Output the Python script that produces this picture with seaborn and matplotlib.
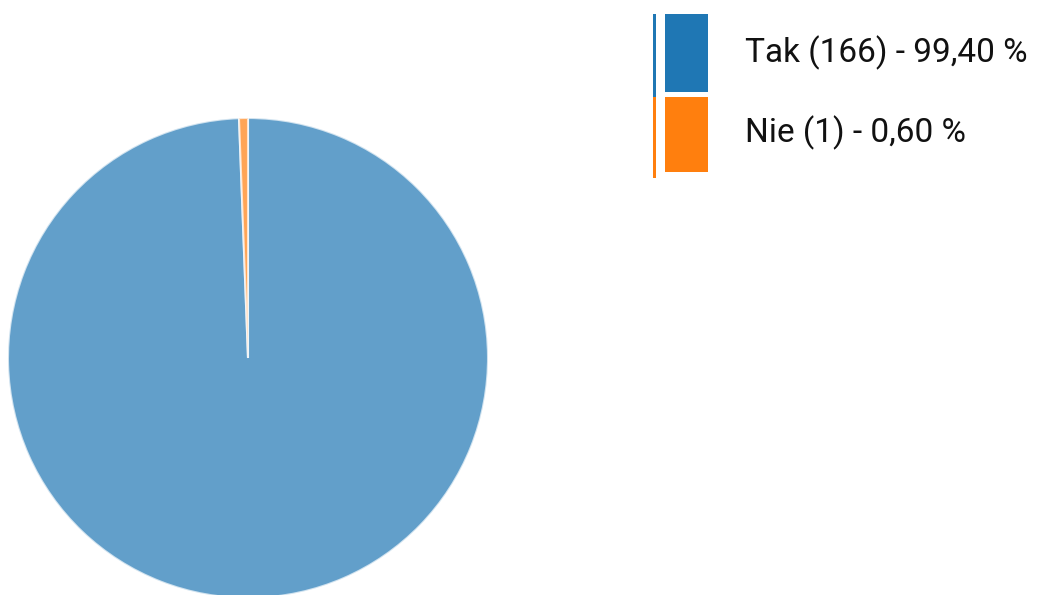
import matplotlib
matplotlib.use("Agg")
import matplotlib.pyplot as plt
from matplotlib.patches import Rectangle
import seaborn as sns

# Survey answers
labels = ["Tak", "Nie"]
counts = [166, 1]
percent_labels = ["99,40 %", "0,60 %"]

sns.set_theme(style="white")
plt.rcParams["font.family"] = ["Roboto", "DejaVu Sans"]
colors = sns.color_palette("tab10", 2)

W, H = 1040, 595
fig = plt.figure(figsize=(W / 100, H / 100), dpi=100)
fig.patch.set_facecolor("white")

# Pie axes: centre (248, 358) px, radius 240 px
cx, cy, r = 248, 358, 240
ax = fig.add_axes([(cx - r) / W, (H - cy - r) / H, 2 * r / W, 2 * r / H])
ax.pie(counts, colors=colors, startangle=90, counterclock=False,
       wedgeprops=dict(alpha=0.7, edgecolor="white", linewidth=1.5))
ax.set_xlim(-1, 1)
ax.set_ylim(-1, 1)
ax.set_aspect("equal")
ax.axis("off")

# Legend drawn in pixel coordinates on an overlay axes
lax = fig.add_axes([0, 0, 1, 1])
lax.set_xlim(0, W)
lax.set_ylim(H, 0)
lax.axis("off")

rows = [(14, 92, 14, 97), (97, 172, 97, 178)]
text_y = [53, 133]
for i, (lab, n, pct) in enumerate(zip(labels, counts, percent_labels)):
    y0, y1, ly0, ly1 = rows[i]
    lax.add_patch(Rectangle((653, ly0), 3, ly1 - ly0, color=colors[i], lw=0))
    lax.add_patch(Rectangle((665, y0), 43, y1 - y0, color=colors[i], lw=0))
    lax.text(745, text_y[i], f"{lab} ({n}) - {pct}", fontsize=24,
             va="center", ha="left", color="#111111")

fig.savefig("out.png", dpi=100, facecolor="white")
